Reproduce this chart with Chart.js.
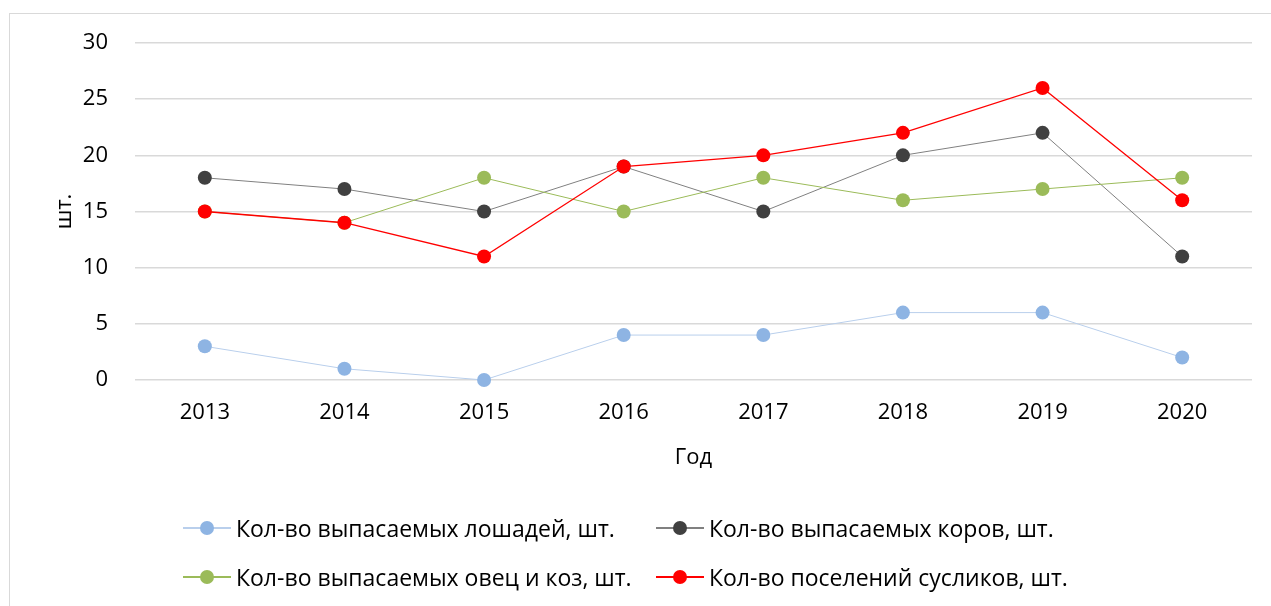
<!DOCTYPE html>
<html>
<head>
<meta charset="utf-8">
<script src="https://cdn.jsdelivr.net/npm/chart.js@4"></script>
<style>
  body { margin: 0; background: #fff; font-family: "Open Sans", sans-serif; }
  #wrap { position: relative; width: 1271px; height: 606px; overflow: hidden; }
  #frame { position: absolute; left: 9px; top: 13px; width: 1300px; height: 700px; border: 1px solid #d9d9d9; }
  canvas { position: absolute; left: 0; top: 0; }
  .item { position: absolute; display: flex; align-items: center; font-size: 23px; color: #000; white-space: nowrap; }
  .mark { position: relative; width: 48px; height: 14px; margin-right: 5px; }
  .mark .ln { position: absolute; left: 0; right: 0; top: 6px; height: 1.5px; }
  .mark .dot { position: absolute; left: 17px; top: 0; width: 14px; height: 14px; border-radius: 50%; }
</style>
</head>
<body>
<div id="wrap">
  <div id="frame"></div>
  <canvas id="chart" width="1271" height="606"></canvas>
  <div id="legend"></div>
</div>
<script>
// data
const years = ['2013', '2014', '2015', '2016', '2017', '2018', '2019', '2020'];
const horses = [3, 1, 0, 4, 4, 6, 6, 2];
const cows = [18, 17, 15, 19, 15, 20, 22, 11];
const sheep = [15, 14, 18, 15, 18, 16, 17, 18];
const gophers = [15, 14, 11, 19, 20, 22, 26, 16];

const seriesNames = [
  'Кол-во выпасаемых лошадей, шт.',
  'Кол-во выпасаемых коров, шт.',
  'Кол-во выпасаемых овец и коз, шт.',
  'Кол-во поселений сусликов, шт.'
];
const dotColors = ['#8eb4e3', '#404040', '#9bbb59', '#ff0000'];
const lineColors = ['#b9cfec', '#808080', '#9bbb59', '#ff0000'];

const yMin = 0, yMax = 30, yStep = 5;

const font = { family: '"Open Sans", sans-serif', size: 22 };

const makeSet = (i, values, order) => ({
  label: seriesNames[i],
  data: values,
  borderColor: lineColors[i],
  borderWidth: i === 3 ? 1.3 : 1,
  backgroundColor: dotColors[i],
  pointBackgroundColor: dotColors[i],
  pointBorderColor: dotColors[i],
  pointBorderWidth: 0,
  pointRadius: 7,
  pointHoverRadius: 7,
  tension: 0,
  clip: false,
  order: order,
});

const chart = new Chart(document.getElementById('chart'), {
  type: 'line',
  data: {
    labels: years,
    datasets: [
      makeSet(0, horses, 3),
      makeSet(1, cows, 2),
      makeSet(2, sheep, 1),
      makeSet(3, gophers, 0),
    ],
  },
  options: {
    responsive: false,
    animation: false,
    devicePixelRatio: 1,
    layout: { padding: { left: 0, right: 19, top: 43, bottom: 133 } },
    plugins: { legend: { display: false }, tooltip: { enabled: false } },
    scales: {
      x: {
        offset: true,
        grid: { display: false, drawTicks: false },
        border: { display: false },
        ticks: { color: '#000', font: font, padding: 20, maxRotation: 0 },
        title: { display: true, text: 'Год', color: '#000', font: font, padding: { top: 0, bottom: 2 } },
        afterFit: (scale) => { scale.height = 93; },
      },
      y: {
        min: yMin,
        max: yMax,
        grid: { color: '#d9d9d9', lineWidth: 1.5, drawTicks: false },
        border: { display: false },
        ticks: { stepSize: yStep, color: '#000', font: font, padding: 27 },
        title: { display: true, text: 'шт.', color: '#000', font: font, padding: { top: 52, bottom: 0 } },
        afterFit: (scale) => { scale.width = 135; },
      },
    },
  },
});

// legend in two fixed columns, like the original
const legendPos = [
  { x: 183, y: 528 },
  { x: 656, y: 528 },
  { x: 183, y: 577 },
  { x: 656, y: 577 },
];
const legend = document.getElementById('legend');
seriesNames.forEach((name, i) => {
  const el = document.createElement('div');
  el.className = 'item';
  el.style.left = legendPos[i].x + 'px';
  el.style.top = (legendPos[i].y - 16) + 'px';
  el.style.height = '32px';
  el.innerHTML = '<span class="mark"><span class="ln" style="background:' + lineColors[i] +
    '"></span><span class="dot" style="background:' + dotColors[i] + '"></span></span>' +
    '<span>' + name + '</span>';
  legend.appendChild(el);
});
</script>
</body>
</html>
